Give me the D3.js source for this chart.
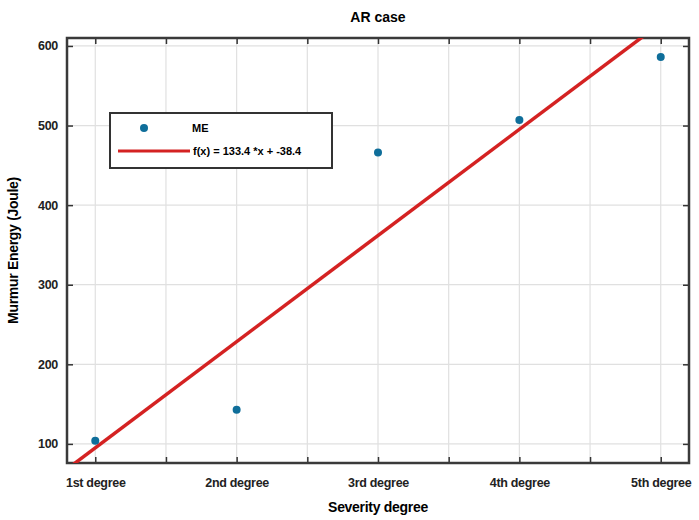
<!DOCTYPE html>
<html>
<head>
<meta charset="utf-8">
<script src="https://cdn.jsdelivr.net/npm/d3@7"></script>
<style>
  body { margin: 0; background: #fff; }
  text { font-family: "Liberation Sans", Arial, sans-serif; }
</style>
</head>
<body>
<div id="canvas"></div>
<script>
const degrees = ["1st degree", "2nd degree", "3rd degree", "4th degree", "5th degree"];
const degreeX = [1, 2, 3, 4, 5];
const murmurEnergy = [104, 143, 466, 507, 586];
const fitSlope = 133.4, fitIntercept = -38.4;
const xTicks = [1, 1.5, 2, 2.5, 3, 3.5, 4, 4.5, 5];
const yTicks = [100, 200, 300, 400, 500, 600];

const margin = { top: 38, right: 10, bottom: 57, left: 67 };
const W = 699, H = 520;
const width = W - margin.left - margin.right;
const height = H - margin.top - margin.bottom;

const svg = d3.select("#canvas")
  .append("svg")
    .attr("width", W)
    .attr("height", H)
  .append("g")
    .attr("transform", `translate(${margin.left}, ${margin.top})`);

const xScale = d3.scaleLinear().domain([0.8, 5.2]).range([0, width]);
const yScale = d3.scaleLinear().domain([76, 610]).range([height, 0]);

// grid
svg.append("g")
  .selectAll("line.gx")
  .data(xTicks)
  .enter().append("line")
    .attr("x1", d => xScale(d)).attr("x2", d => xScale(d))
    .attr("y1", 0).attr("y2", height)
    .style("stroke", "#e0e0e0").style("stroke-width", 1.2);

svg.append("g")
  .selectAll("line.gy")
  .data(yTicks)
  .enter().append("line")
    .attr("x1", 0).attr("x2", width)
    .attr("y1", d => yScale(d)).attr("y2", d => yScale(d))
    .style("stroke", "#e0e0e0").style("stroke-width", 1.2);

// axes with inward ticks
const labelOf = d => {
  const i = degreeX.indexOf(d);
  return i >= 0 ? degrees[i] : "";
};
const xAxis = svg.append("g")
  .attr("transform", `translate(0, ${height})`)
  .call(d3.axisBottom(xScale).tickValues(xTicks).tickSize(-6).tickPadding(15).tickFormat(labelOf));
const xTop = svg.append("g")
  .call(d3.axisTop(xScale).tickValues(xTicks).tickSize(-6).tickFormat(""));
const yAxis = svg.append("g")
  .call(d3.axisLeft(yScale).tickValues(yTicks).tickSize(-6).tickPadding(9));
const yRight = svg.append("g")
  .attr("transform", `translate(${width}, 0)`)
  .call(d3.axisRight(yScale).tickValues(yTicks).tickSize(-6).tickFormat(""));

[xAxis, xTop, yAxis, yRight].forEach(g => {
  g.select(".domain").remove();
  g.selectAll("line").style("stroke", "#333").style("stroke-width", 1.5);
  g.selectAll("text").style("font-size", "12.5px").style("fill", "#222")
    .style("font-weight", "bold").style("letter-spacing", "-0.3px")
    .style("font-family", "'Liberation Sans', Arial, sans-serif");
});

// box
svg.append("rect")
  .attr("width", width).attr("height", height)
  .style("fill", "none").style("stroke", "#3a3a3a").style("stroke-width", 2.5);

// clip
svg.append("clipPath").attr("id", "clip")
  .append("rect").attr("width", width).attr("height", height);

// fit line
const fitX = xScale.domain();
svg.append("line")
  .attr("clip-path", "url(#clip)")
  .attr("x1", xScale(fitX[0])).attr("y1", yScale(fitSlope * fitX[0] + fitIntercept))
  .attr("x2", xScale(fitX[1])).attr("y2", yScale(fitSlope * fitX[1] + fitIntercept))
  .style("stroke", "#d42222").style("stroke-width", 3.5);

// points
svg.selectAll(".point")
  .data(degreeX)
  .enter().append("circle")
    .attr("class", "point")
    .attr("cx", d => xScale(d))
    .attr("cy", (d, i) => yScale(murmurEnergy[i]))
    .attr("r", 4)
    .style("fill", "#0f6e9a");

// legend
const legend = svg.append("g").attr("transform", "translate(43, 75)");
legend.append("rect")
  .attr("width", 222).attr("height", 55)
  .style("fill", "#fff").style("stroke", "#333").style("stroke-width", 2);
legend.append("circle").attr("cx", 34).attr("cy", 15).attr("r", 4).style("fill", "#0f6e9a");
legend.append("text").attr("x", 82).attr("y", 19).text("ME")
  .style("font-size", "11px").style("font-weight", "bold");
legend.append("line").attr("x1", 8).attr("x2", 80).attr("y1", 38).attr("y2", 38)
  .style("stroke", "#d42222").style("stroke-width", 3);
legend.append("text").attr("x", 83).attr("y", 42)
  .text(`f(x) =  ${fitSlope} *x +  ${fitIntercept}`)
  .style("font-size", "11px").style("font-weight", "bold");

// title and labels
svg.append("text")
  .attr("x", width / 2).attr("y", -16)
  .attr("text-anchor", "middle")
  .style("font-size", "14px").style("font-weight", "bold")
  .text("AR case");

svg.append("text")
  .attr("x", width / 2).attr("y", height + 49)
  .attr("text-anchor", "middle")
  .style("font-size", "14px").style("font-weight", "bold").style("letter-spacing", "-0.3px")
  .text("Severity degree");

svg.append("text")
  .attr("transform", `translate(-49, ${height / 2}) rotate(-90)`)
  .attr("text-anchor", "middle")
  .style("font-size", "14px").style("font-weight", "bold").style("letter-spacing", "-0.3px")
  .text("Murmur Energy (Joule)");
</script>
</body>
</html>
